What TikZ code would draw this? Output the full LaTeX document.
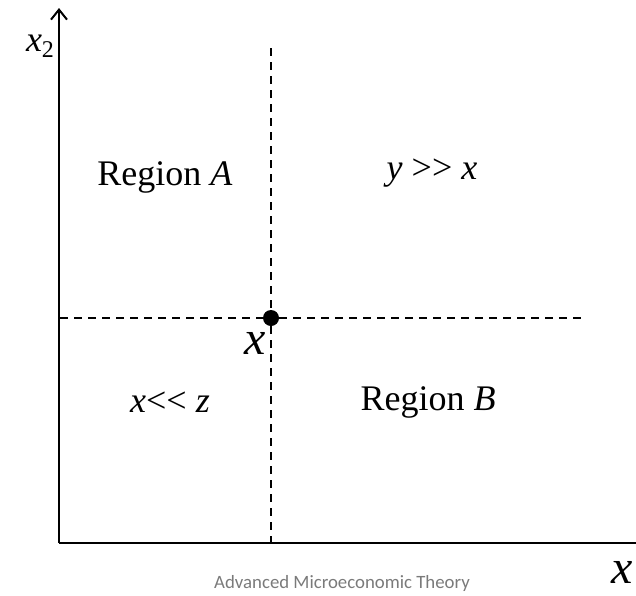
\documentclass[tikz,border=0pt]{standalone}
\usepackage{fontspec}
\setmainfont{Liberation Serif}
\newfontfamily\notefont{Carlito}
\usetikzlibrary{positioning, arrows.meta}

\begin{document}
\begin{tikzpicture}[x=0.5pt, y=-0.5pt,
  axis/.style={line width=1pt, -{Straight Barb[length=5pt, width=8pt]}},
  guide/.style={line width=0.6pt, dash pattern=on 4pt off 3pt},
  region/.style={font=\fontsize{18}{20}\selectfont, inner sep=0pt},
  bigvar/.style={font=\fontsize{24}{26}\selectfont\itshape, inner sep=0pt},
]
  \useasboundingbox (0,0) rectangle (636,595);

  % axes
  \coordinate (origin) at (59,543);
  \coordinate (ytop)   at (59,8);
  \coordinate (xend)   at (652,543);
  \draw[axis] (origin) -- (ytop);
  \draw[axis] (origin) -- (xend);

  % the point x and its guides
  \node[circle, fill, inner sep=0pt, minimum size=8pt] (pt) at (271,318) {};
  \coordinate (vtop) at (271,48);
  \coordinate (vbot) at (271,543);
  \coordinate (hleft)  at (60,318);
  \coordinate (hright) at (583,318);
  \draw[guide] (vtop) -- (pt) -- (vbot);
  \draw[guide] (hleft) -- (pt) -- (hright);

  % labels
  \node[region] (xtwo) at (40,46)
    {\textit{x}\raisebox{-0.35ex}{\fontsize{12}{12}\selectfont 2}};
  \node[region] (regA) at (165,177) {Region \textit{A}};
  \node[region] (better) at (432,173) {\textit{y} >{}> \textit{x}};
  \node[region] (worse)  at (170,402) {\textit{x}<{}< \textit{z}};
  \node[region] (regB) at (428,402) {Region \textit{B}};
  \node[bigvar] (xpt) at (255,343) {x};
  \node[bigvar] (xone) at (622,572) {x};
  \node[font=\notefont\fontsize{9.4}{11}\selectfont, text=black!52, inner sep=0pt]
    (credit) at (342,583) {Advanced Microeconomic Theory};
\end{tikzpicture}
\end{document}
